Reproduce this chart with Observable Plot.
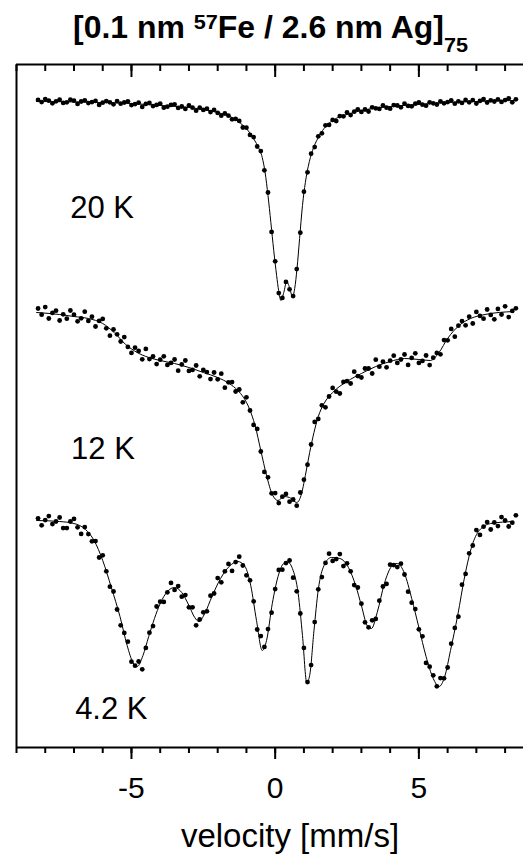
<!DOCTYPE html>
<html><head><meta charset="utf-8">
<script src="https://cdn.jsdelivr.net/npm/d3@7"></script>
<script src="https://cdn.jsdelivr.net/npm/@observablehq/plot@0.6"></script>
<style>
body{margin:0;background:#fff;font-family:"Liberation Sans",Arial,sans-serif;}
#title{position:relative;height:60px;width:523px;}
#t{position:absolute;left:73px;top:12px;font-weight:bold;font-size:31px;line-height:1;white-space:nowrap;transform-origin:0 0;}
.sup{font-size:21px;position:relative;top:-9px;}
.sub{font-size:21px;position:relative;top:14px;}
</style></head>
<body>
<div id="title"><span id="t">[0.1 nm <span class="sup">57</span>Fe / 2.6 nm Ag]<span class="sub">75</span></span></div>
<div id="chart"></div>
<script>
// spectra (temperature) and vertical offsets applied when stacking
const spectra = ["20 K", "12 K", "4.2 K"];
const offsets = [0, -106, -210];
// channel velocities: first channel and channel width (mm/s)
const vStart = -8.25, vStep = 0.125;
// x-axis ticks
const minorTicks = [-9,-8,-7,-6,-5,-4,-3,-2,-1,0,1,2,3,4,5,6,7,8];
const majorTicks = [-5, 0, 5];
// label annotations
const labelText = ["20 K", "12 K", "4.2 K"];
const labelV = [-7.13, -7.1, -6.96];
const labelY = [42, -78.5, -208.5];

// fitted curves: [velocity, relative transmission]
const fit20 = [[-8.3,100],[-7,99.8],[-6,99.5],[-5,99],[-4,98],[-3,97],[-2.5,96],[-2,94.5],[-1.5,92],[-1.2,89],[-1,86.5],[-0.8,82.5],[-0.6,77.5],[-0.45,72],[-0.35,64.5],[-0.25,53],[-0.15,39.5],[-0.05,25.5],[0.05,13],[0.12,5.5],[0.2,0.5],[0.3,4.5],[0.4,10],[0.5,7],[0.6,2.5],[0.68,6.5],[0.76,16.5],[0.85,31.5],[0.95,48],[1.05,59.5],[1.15,67.5],[1.3,75.5],[1.5,82],[1.7,86.5],[2,90.5],[2.5,93.5],[3,95.5],[4,97.5],[5,98.5],[6,99.5],[7,100],[8.3,100.5]];
const fit12 = [[-8.3,100.5],[-7.5,99.5],[-7,98.5],[-6.5,97.5],[-6,95],[-5.6,90.5],[-5.2,84.5],[-4.8,80.5],[-4.4,78],[-4,76.5],[-3.5,75],[-3,73],[-2.5,70.5],[-2,68],[-1.6,65],[-1.3,61.5],[-1.1,58],[-0.9,52.5],[-0.7,44],[-0.5,31.5],[-0.3,19],[-0.1,9.5],[0.1,6.5],[0.3,8.5],[0.5,8],[0.75,5.5],[0.9,9],[1.05,19],[1.2,30.5],[1.35,40.5],[1.5,48.5],[1.7,55],[2,60.5],[2.5,66],[3,70],[3.5,73.5],[4,76],[4.5,77.5],[5,77],[5.4,76.5],[5.7,80.5],[6,87.5],[6.4,94],[6.8,97.5],[7.3,99.5],[8.3,101]];
const fit42 = [[-8.3,100.5],[-7.5,100],[-7,99],[-6.6,96],[-6.3,90.5],[-6,80.5],[-5.7,67],[-5.4,52.5],[-5.15,38],[-4.95,29.5],[-4.8,27.5],[-4.6,33],[-4.4,42.5],[-4.2,51.5],[-4,59],[-3.75,65],[-3.5,67],[-3.25,64.5],[-3,58],[-2.8,52],[-2.65,50],[-2.45,54],[-2.2,62.5],[-1.9,71.5],[-1.6,77.5],[-1.3,80],[-1.05,77.5],[-0.85,68],[-0.65,50.5],[-0.45,35.5],[-0.3,40.5],[-0.1,59],[0.1,72.5],[0.3,79],[0.45,79.5],[0.6,76.5],[0.8,64],[0.95,43],[1.1,19.5],[1.2,23],[1.35,45.5],[1.5,66],[1.7,78],[1.95,82],[2.25,81.5],[2.55,77],[2.8,68],[3,58],[3.2,48],[3.35,46.5],[3.55,54.5],[3.8,69],[4.05,77.5],[4.25,79],[4.5,74],[4.75,61.5],[5,47],[5.25,32.5],[5.5,21.5],[5.7,17.5],[5.9,22.5],[6.1,35.5],[6.35,53],[6.6,73],[6.85,88],[7.1,95.5],[7.5,99],[8.3,100]];

// measured points, one per channel (8 channels per mm/s per row)
const dots20 = [
 100.8, 99.7, 101.2, 100.4, 99.1, 100.1, 100.9, 99.3,
 99.6, 100.9, 100.4, 98.8, 100, 100.6, 99.2, 99.7,
 100.3, 98.3, 99.4, 100.2, 99.6, 98.6, 100.2, 98.9,
 99.5, 100.1, 98.2, 98.7, 99.4, 97.3, 98.8, 99.3,
 97.7, 98.3, 98.9, 96.9, 97.4, 98.3, 98.6, 96.8,
 97.5, 96.3, 98, 96.9, 95.4, 96.9, 95.8, 96.4,
 94.7, 95.8, 94.3, 92.9, 94, 92.9, 91.1, 91.3,
 90.3, 87, 86.9, 83.3, 82.2, 77.5, 75.2, 65.6,
 54.5, 34.8, 20.1, 4.2, 1.8, 9.8, 6.1, 2.7,
 16.2, 34.4, 54.9, 64.6, 73.9, 77.2, 82.6, 84.1,
 88.1, 88.3, 90.8, 90.2, 92.7, 92.6, 94.5, 93.2,
 94.9, 96.1, 94.8, 96, 95, 97.1, 96.6, 96.3,
 98, 96.9, 96.4, 98.2, 98, 97.1, 98.9, 97.8,
 97.6, 98.9, 99.6, 98.4, 97.9, 99.6, 99.1, 98.5,
 100.1, 99.1, 99.7, 100.6, 98.9, 100.1, 99.3, 100.8,
 99.6, 100.7, 99, 100.3, 101.2, 99.5, 100.6, 100,
 101.1, 99.8, 100.7, 101.6, 99.6, 101.1];
const dots12 = [
 102.5, 99.4, 103.2, 97.5, 100.3, 101.4, 96.5, 99.6,
 97.4, 101.5, 99.4, 96.1, 97.6, 100.9, 96.3, 98.4,
 93.5, 96.3, 97.3, 92.6, 88.9, 92, 89.6, 86,
 88.2, 83.3, 80.3, 82.9, 81.3, 77.1, 82.3, 77.2,
 78.5, 74.7, 76.9, 78.6, 74.3, 75.3, 77, 71.4,
 74.5, 76.5, 71.3, 71.8, 74, 68.6, 71.8, 70.7,
 67.2, 70.5, 67.1, 69.9, 62.9, 65.6, 65.7, 61,
 62, 55.6, 58.1, 51.5, 44.3, 42.3, 31, 20.8,
 18.1, 10.1, 10.2, 5.2, 8.4, 9.8, 5.9, 7,
 3.9, 10.5, 16.9, 24.4, 34.5, 45.8, 47.3, 54.1,
 53.1, 58.5, 62.8, 60.9, 60, 65.8, 66.2, 65,
 70.9, 68.7, 68, 72.5, 72.5, 70, 76.9, 73.4,
 75.9, 73.1, 76.4, 78.9, 75.3, 77, 79.5, 74.3,
 77.8, 80.1, 75.3, 76.3, 79, 74.2, 77.9, 80.3,
 79.6, 86.7, 86.6, 92.3, 88.4, 93.9, 96.2, 94.1,
 98.4, 95, 100.8, 98.8, 97.4, 102, 99.3, 97.1,
 102.3, 99.5, 103.6, 98.2, 101.3, 102.6];
const dots42 = [
 101.6, 98.1, 100.7, 102.7, 98.7, 100, 102, 96.7,
 96.7, 100, 101.3, 97.1, 93.8, 97.2, 93.7, 90.1,
 90.2, 82, 83.1, 75.1, 67.4, 65, 56, 48.1,
 44.3, 39.9, 29.9, 27.9, 30, 26.1, 36.8, 44.4,
 47.7, 57.5, 59.9, 59.8, 64.6, 69.3, 65.8, 67.7,
 62.4, 63.2, 57.1, 57.1, 48.1, 51, 54.6, 55.1,
 62.9, 64, 71.7, 69.6, 75.1, 78.8, 75.3, 79.7,
 82.4, 78, 73.1, 70.6, 60.1, 46, 42.7, 37.3,
 46.2, 54.4, 66.2, 75.8, 75.9, 79.2, 80.5, 71.9,
 65.1, 54, 36.8, 19.7, 28.2, 49.7, 66.1, 72.2,
 79.3, 83.9, 80.3, 81.2, 83.7, 77.7, 79.1, 75.1,
 68.2, 67, 58.9, 49.6, 47.1, 50.6, 51.3, 60.4,
 67.5, 68.8, 78.4, 78.2, 77.2, 78.9, 73.5, 64.9,
 59.4, 56.2, 46.1, 42.6, 29.3, 27.4, 23.1, 17.6,
 21.7, 21.6, 27, 38.9, 46.8, 52.4, 68.4, 73.8,
 84.1, 88, 95.7, 93.3, 97.4, 99.7, 96, 99.5,
 97.7, 102.2, 100.5, 97.5, 99.4, 103.1];

const fitRows = [];
[fit20, fit12, fit42].forEach((arr, k) => arr.forEach(([v, t]) => fitRows.push({v, y: t + offsets[k], s: spectra[k]})));
const dotRows = [];
[dots20, dots12, dots42].forEach((arr, k) => arr.forEach((t, i) => dotRows.push({v: vStart + i * vStep, y: t + offsets[k], s: spectra[k]})));
const labels = labelText.map((t, i) => ({t, v: labelV[i], y: labelY[i]}));

const yMin = -223, yMax = 118.5, xMin = -9, xMax = 8.64;
const chart = Plot.plot({
  width: 523, height: 794,
  marginTop: 4, marginBottom: 107, marginLeft: 16, marginRight: 0,
  x: {domain: [xMin, xMax]},
  y: {domain: [yMin, yMax], axis: null},
  style: {fontFamily: "Liberation Sans, Arial, sans-serif", color: "black", background: "white", overflow: "visible"},
  marks: [
    Plot.ruleX([xMin], {strokeWidth: 2}),
    Plot.ruleY([yMin], {strokeWidth: 2}),
    Plot.ruleY([yMax], {strokeWidth: 2}),
    Plot.axisX({anchor: "bottom", ticks: minorTicks, tickSize: 6, tickFormat: () => "", label: null, strokeWidth: 2}),
    Plot.axisX({anchor: "bottom", ticks: majorTicks, tickSize: 12, tickPadding: 17, fontSize: 30, label: null, strokeWidth: 2, tickFormat: d => String(d)}),
    Plot.axisX({anchor: "top", ticks: minorTicks, tickSize: -6, tickFormat: () => "", label: null, strokeWidth: 2}),
    Plot.axisX({anchor: "top", ticks: majorTicks, tickSize: -12, tickFormat: () => "", label: null, strokeWidth: 2}),
    Plot.line(fitRows, {x: "v", y: "y", z: "s", stroke: "black", strokeWidth: 1, curve: "monotone-x"}),
    Plot.dot(dotRows, {x: "v", y: "y", r: 2.4, fill: "black", stroke: null}),
    Plot.text(labels, {x: "v", y: "y", text: "t", fontSize: 31, textAnchor: "start", lineAnchor: "bottom", fill: "black"}),
    Plot.text(["velocity [mm/s]"], {frameAnchor: "bottom", dx: 20, dy: 99, fontSize: 33, lineAnchor: "bottom", fill: "black"})
  ]
});
document.getElementById("chart").appendChild(chart);
const t = document.getElementById("t");
const w = t.getBoundingClientRect().width;
t.style.transform = `scaleX(${395 / w})`;
</script>
</body></html>
